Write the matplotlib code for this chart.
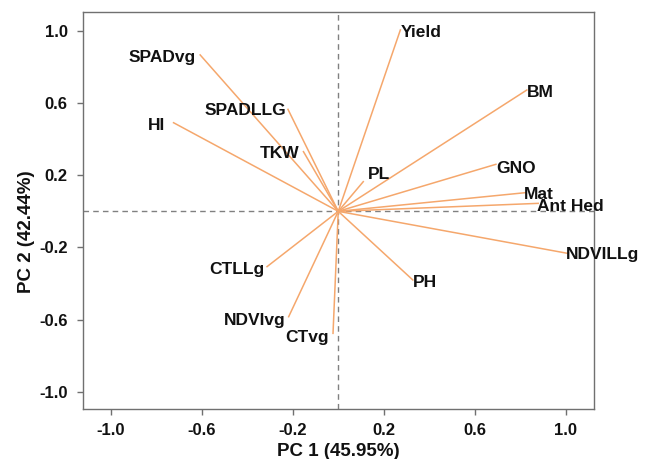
import matplotlib
matplotlib.use("Agg")
import matplotlib.pyplot as plt

plt.rcParams['font.family'] = ['Liberation Sans', 'DejaVu Sans']
plt.rcParams['axes.unicode_minus'] = False

variables = ["Yield", "BM", "GNO", "Mat", "Ant Hed", "NDVILLg", "PL", "PH",
             "CTvg", "NDVIvg", "CTLLg", "SPADvg", "SPADLLG", "HI", "TKW"]
pc1 = [0.273, 0.829, 0.693, 0.822, 0.879, 1.006, 0.110, 0.328,
       -0.023, -0.218, -0.313, -0.607, -0.221, -0.724, -0.153]
pc2 = [1.003, 0.671, 0.260, 0.103, 0.044, -0.232, 0.164, -0.380,
       -0.675, -0.583, -0.306, 0.865, 0.564, 0.490, 0.330]
ticks = [-1.0, -0.6, -0.2, 0.2, 0.6, 1.0]
xlabel = "PC 1 (45.95%)"
ylabel = "PC 2 (42.44%)"

# label offsets in points (dx, dy) and alignment
label_style = {
    "Yield": (0, -2, 'left'),
    "BM": (0, -2, 'left'),
    "GNO": (0, -3, 'left'),
    "Mat": (-1, -1, 'left'),
    "Ant Hed": (-1, -2.5, 'left'),
    "NDVILLg": (-1, -1, 'left'),
    "PL": (3, 5, 'left'),
    "PH": (0, -2, 'left'),
    "CTvg": (-3, -3, 'right'),
    "NDVIvg": (-2, -3, 'right'),
    "CTLLg": (-2, -2, 'right'),
    "SPADvg": (-3, -2, 'right'),
    "SPADLLG": (-1, -1, 'right'),
    "HI": (-6, -2, 'right'),
    "TKW": (-3, -1, 'right'),
}

fig = plt.figure(figsize=(6.47, 4.59), dpi=100)
ax = fig.add_axes([0.1283, 0.1083, 0.7897, 0.8662])

ax.axhline(0, color='#808080', lw=1.0, ls=(0, (4, 3)), zorder=1)
ax.axvline(0, color='#808080', lw=1.0, ls=(0, (4, 3)), zorder=1)

for name, x, y in zip(variables, pc1, pc2):
    ax.plot([0, x], [0, y], color='#F5A76C', lw=1.1, zorder=2)
    dx, dy, ha = label_style[name]
    ax.annotate(name, (x, y), xytext=(dx, dy), textcoords='offset points',
                ha=ha, va='center', fontsize=12.5, fontweight='bold',
                color='#111111', zorder=3)

ax.set_xlim(-1.122, 1.124)
ax.set_ylim(-1.095, 1.104)
ax.set_xticks(ticks)
ax.set_yticks(ticks)
ax.set_xticklabels([f"{t:.1f}" for t in ticks])
ax.set_yticklabels([f"{t:.1f}" for t in ticks])
ax.tick_params(axis='both', direction='out', length=4, width=1, color='#707070',
               labelsize=12, labelcolor='#111111')
ax.tick_params(axis='x', pad=6)
ax.tick_params(axis='y', pad=7)
for lbl in ax.get_xticklabels() + ax.get_yticklabels():
    lbl.set_fontweight('bold')
for s in ax.spines.values():
    s.set_color('#707070')
    s.set_linewidth(1.0)

ax.set_xlabel(xlabel, fontsize=13.5, fontweight='bold', color='#111111')
ax.set_ylabel(ylabel, fontsize=13.5, fontweight='bold', color='#111111')
ax.xaxis.set_label_coords(0.5, -0.105)
ax.yaxis.set_label_coords(-0.11, 0.447)
ax.xaxis.label.set_va('center')
ax.yaxis.label.set_va('center')

fig.savefig("out.png", dpi=100)
